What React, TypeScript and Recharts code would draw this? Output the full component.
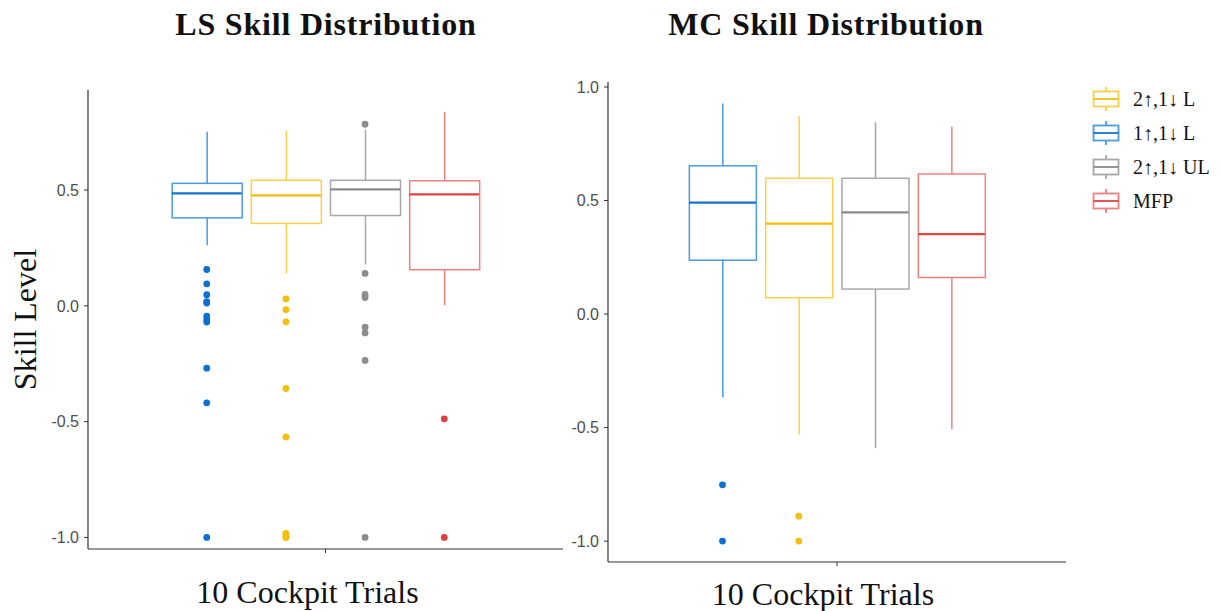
import React from 'react';
import { ComposedChart, Bar, Scatter, XAxis, YAxis, Label } from 'recharts';

// groups, left to right inside each panel
const categories = ['1↑,1↓ L', '2↑,1↓ L', '2↑,1↓ UL', 'MFP'];
const positions = [1, 2, 3, 4];
const legendOrder = ['2↑,1↓ L', '1↑,1↓ L', '2↑,1↓ UL', 'MFP'];

// LS panel
const lsLow = [0.262, 0.14, 0.179, 0.002];
const lsQ1 = [0.38, 0.356, 0.39, 0.156];
const lsMedian = [0.486, 0.477, 0.503, 0.481];
const lsQ3 = [0.529, 0.542, 0.542, 0.54];
const lsHigh = [0.752, 0.756, 0.76, 0.838];
const lsOutliers = [
  [0.157, 0.095, 0.048, 0.018, 0.012, -0.044, -0.059, -0.07, -0.269, -0.419, -1.0],
  [0.03, -0.016, -0.069, -0.357, -0.566, -0.983, -0.995, -1.0],
  [0.784, 0.14, 0.049, 0.036, -0.092, -0.117, -0.236, -1.0],
  [-0.488, -1.0],
];
const lsTicks = [-1, -0.5, 0, 0.5];

// MC panel
const mcLow = [-0.368, -0.529, -0.591, -0.506];
const mcQ1 = [0.237, 0.072, 0.11, 0.161];
const mcMedian = [0.491, 0.398, 0.448, 0.352];
const mcQ3 = [0.653, 0.598, 0.598, 0.617];
const mcHigh = [0.927, 0.872, 0.845, 0.825];
const mcOutliers = [[-0.752, -1.0], [-0.89, -1.0], [], []];
const mcTicks = [-1, -0.5, 0, 0.5, 1];

const COLORS: Record<string, { line: string; median: string; point: string }> = {
  '1↑,1↓ L': { line: '#4b9be2', median: '#1571cf', point: '#0d6fcf' },
  '2↑,1↓ L': { line: '#fdd04a', median: '#f6bd10', point: '#f6bd0c' },
  '2↑,1↓ UL': { line: '#a8a8a8', median: '#8a8a8a', point: '#8c8c8c' },
  MFP: { line: '#ee8282', median: '#e24444', point: '#e04040' },
};

const SERIF = '"Liberation Serif", "DejaVu Serif", serif';
const SANS = '"Liberation Sans", Arial, sans-serif';
const AXIS = '#333333';

const buildRows = (low: number[], q1: number[], med: number[], q3: number[], high: number[]) =>
  categories.map((name, i) => ({
    name,
    pos: positions[i],
    whisker: [low[i], high[i]],
    box: [q1[i], q3[i]],
    median: med[i],
  }));

const WhiskerShape = (props: any) => {
  const { x, y, width, height, payload } = props;
  const cx = x + width / 2;
  const top = Math.min(y, y + height);
  return (
    <line x1={cx} x2={cx} y1={top} y2={top + Math.abs(height)} stroke={COLORS[payload.name].line} strokeWidth={1.5} />
  );
};

const BoxShape = (props: any) => {
  const { x, y, width, height, payload } = props;
  const top = Math.min(y, y + height);
  return (
    <rect x={x} y={top} width={width} height={Math.abs(height)} fill="#ffffff" stroke={COLORS[payload.name].line} strokeWidth={1.5} />
  );
};

const makeMedianShape = (half: number) => (props: any) => {
  const { cx, cy, payload } = props;
  return <line x1={cx - half} x2={cx + half} y1={cy} y2={cy} stroke={COLORS[payload.name].median} strokeWidth={2.2} />;
};

interface PanelProps {
  low: number[];
  q1: number[];
  med: number[];
  q3: number[];
  high: number[];
  outliers: number[][];
  ticks: number[];
  domain: [number, number];
  width: number;
  height: number;
  margin: { top: number; right: number; bottom: number; left: number };
  yWidth: number;
  xHeight: number;
  barSize: number;
  yLabel?: string;
  xLabelDx: number;
}

function BoxPanel(p: PanelProps) {
  const rows = buildRows(p.low, p.q1, p.med, p.q3, p.high);
  const tickStyle = { fontSize: 16, fill: '#4d4d4d', fontFamily: SANS };
  return (
    <ComposedChart width={p.width} height={p.height} margin={p.margin} data={rows}>
      <XAxis
        xAxisId="main"
        type="number"
        dataKey="pos"
        domain={[-0.5, 5.5]}
        ticks={[2.5]}
        tickFormatter={() => ''}
        height={p.xHeight}
        axisLine={{ stroke: AXIS, strokeWidth: 1.2 }}
        tickLine={{ stroke: AXIS }}
        tickSize={4}
      >
        <Label
          value="10 Cockpit Trials"
          position="insideBottom"
          offset={6}
          dx={p.xLabelDx}
          style={{ fontFamily: SERIF, fontSize: 32, fill: '#111111' }}
        />
      </XAxis>
      <XAxis xAxisId="w" type="number" dataKey="pos" domain={[-0.5, 5.5]} height={0} hide />
      <XAxis xAxisId="b" type="number" dataKey="pos" domain={[-0.5, 5.5]} height={0} hide />
      <YAxis
        type="number"
        domain={p.domain}
        ticks={p.ticks}
        allowDataOverflow
        width={p.yWidth}
        tickFormatter={(v: number) => v.toFixed(1)}
        tick={tickStyle}
        tickSize={4}
        tickMargin={5}
        axisLine={{ stroke: AXIS, strokeWidth: 1.2 }}
        tickLine={{ stroke: AXIS }}
      >
        {p.yLabel && (
          <Label
            value={p.yLabel}
            angle={-90}
            position="insideLeft"
            offset={25}
            style={{ fontFamily: SERIF, fontSize: 32, fill: '#111111', textAnchor: 'middle' }}
          />
        )}
      </YAxis>
      <Bar xAxisId="w" dataKey="whisker" barSize={p.barSize} shape={WhiskerShape} isAnimationActive={false} />
      <Bar xAxisId="b" dataKey="box" barSize={p.barSize} shape={BoxShape} isAnimationActive={false} />
      <Scatter xAxisId="main" dataKey="median" shape={makeMedianShape(p.barSize / 2)} isAnimationActive={false} />
      {categories.map((name, i) => (
        <Scatter
          key={name}
          xAxisId="main"
          data={p.outliers[i].map((v) => ({ pos: positions[i], value: v }))}
          dataKey="value"
          fill={COLORS[name].point}
          shape={(s: any) => <circle cx={s.cx} cy={s.cy} r={3.4} fill={COLORS[name].point} />}
          isAnimationActive={false}
        />
      ))}
    </ComposedChart>
  );
}

const LegendIcon = ({ name }: { name: string }) => {
  const c = COLORS[name];
  return (
    <svg width={30} height={28} style={{ display: 'block' }}>
      <line x1={15} x2={15} y1={2} y2={26} stroke={c.line} strokeWidth={1.8} />
      <rect x={2.5} y={6.5} width={25} height={15} fill="#ffffff" stroke={c.line} strokeWidth={1.8} />
      <line x1={2.5} x2={27.5} y1={14} y2={14} stroke={c.median} strokeWidth={1.8} />
    </svg>
  );
};

const titleStyle: React.CSSProperties = {
  position: 'absolute',
  top: 6,
  width: 440,
  textAlign: 'center',
  fontFamily: SERIF,
  fontWeight: 'bold',
  fontSize: 32,
  letterSpacing: 0.8,
  lineHeight: '36px',
  color: '#111111',
};

export default function App() {
  return (
    <div style={{ position: 'absolute', left: 0, top: 0, width: 1222, height: 611, background: '#ffffff', overflow: 'hidden' }}>
      <div style={{ ...titleStyle, left: 326 - 220 }}>LS Skill Distribution</div>
      <div style={{ ...titleStyle, left: 826 - 220 }}>MC Skill Distribution</div>

      <div style={{ position: 'absolute', left: 0, top: 0 }}>
        <BoxPanel
          low={lsLow}
          q1={lsQ1}
          med={lsMedian}
          q3={lsQ3}
          high={lsHigh}
          outliers={lsOutliers}
          ticks={lsTicks}
          domain={[-1.05, 0.932]}
          width={600}
          height={611}
          margin={{ top: 90, right: 37, bottom: 2, left: 0 }}
          yWidth={88}
          xHeight={60}
          barSize={70}
          yLabel="Skill Level"
          xLabelDx={-18}
        />
      </div>

      <div style={{ position: 'absolute', left: 520, top: 0 }}>
        <BoxPanel
          low={mcLow}
          q1={mcQ1}
          med={mcMedian}
          q3={mcQ3}
          high={mcHigh}
          outliers={mcOutliers}
          ticks={mcTicks}
          domain={[-1.092, 1.022]}
          width={560}
          height={611}
          margin={{ top: 82, right: 14, bottom: 0, left: 0 }}
          yWidth={88}
          xHeight={49}
          barSize={67}
          xLabelDx={-14}
        />
      </div>

      <div style={{ position: 'absolute', left: 1091, top: 82 }}>
        {legendOrder.map((name) => (
          <div key={name} style={{ display: 'flex', alignItems: 'center', height: 34 }}>
            <LegendIcon name={name} />
            <span style={{ marginLeft: 12, fontFamily: SERIF, fontSize: 20, color: '#111111', whiteSpace: 'nowrap' }}>{name}</span>
          </div>
        ))}
      </div>
    </div>
  );
}
